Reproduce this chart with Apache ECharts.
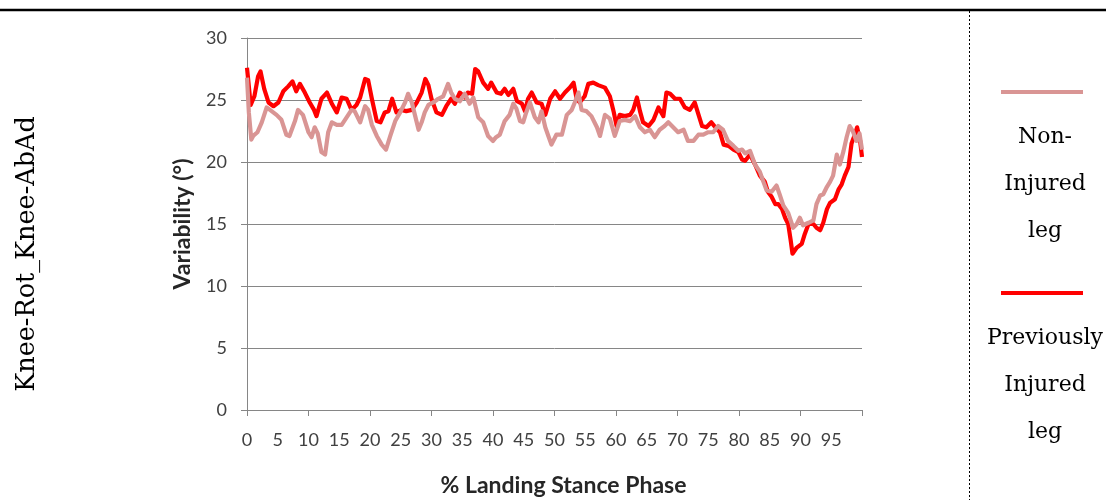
<!DOCTYPE html>
<html>
<head>
<meta charset="utf-8">
<title>Knee-Rot_Knee-AbAd variability</title>
<script src="https://cdn.jsdelivr.net/npm/echarts@6/dist/echarts.min.js"></script>
<style>
  html, body { margin: 0; padding: 0; background: #ffffff; }
  #chart { width: 1106px; height: 500px; }
</style>
</head>
<body>
<div id="chart"></div>
<script>
// Row label and axis titles
const rowLabel = 'Knee-Rot_Knee-AbAd';
const yTitle = 'Variability (°)';
const xTitle = '% Landing Stance Phase';
const seriesNames = ['Non-Injured leg', 'Previously Injured leg'];
const legendLines = [['Non-', 'Injured', 'leg'], ['Previously', 'Injured', 'leg']];

// Y-axis ticks (degrees)
const yTicks = [0, 5, 10, 15, 20, 25, 30];

// Previously injured leg: [% stance, variability °]
const injured = [
  [0,27.6],[0.6,24.6],[1.2,25.3],[1.8,26.9],[2.2,27.3],[2.8,25.9],[3.5,24.8],[4.3,24.5],[5.1,24.8],[5.9,25.7],
  [6.7,26.1],[7.4,26.5],[8.0,25.7],[8.6,26.3],[9.4,25.6],[10.2,24.8],[10.9,24.2],[11.3,23.7],[12.1,25.1],[13.0,25.6],
  [13.8,24.7],[14.6,24.0],[15.4,25.2],[16.2,25.1],[17.0,24.2],[17.8,24.6],[18.4,25.2],[19.2,26.7],[19.7,26.6],[20.3,25.1],
  [21.1,23.3],[21.7,23.2],[22.4,24.0],[23.0,24.1],[23.6,25.1],[24.3,24.0],[25.1,24.2],[25.9,24.1],[26.8,24.2],[27.6,24.8],
  [28.4,25.6],[29.0,26.7],[29.5,26.2],[30.0,25.1],[30.8,24.0],[31.7,23.8],[32.4,24.5],[33.2,25.1],[33.8,24.7],[34.6,25.6],
  [35.4,25.2],[35.9,25.6],[36.6,25.5],[37.1,27.5],[37.6,27.3],[38.4,26.4],[39.2,25.9],[39.7,26.4],[40.6,25.6],[41.3,25.5],
  [41.9,25.9],[42.5,25.4],[43.3,25.9],[43.9,24.9],[44.7,24.7],[45.2,24.1],[45.7,25.1],[46.3,25.6],[47.1,24.8],[47.9,24.7],
  [48.5,23.8],[49.3,25.1],[50.1,25.7],[50.9,25.1],[51.7,25.6],[52.5,26.0],[53.1,26.4],[53.6,25.1],[54.1,24.8],[54.9,25.3],
  [55.5,26.3],[56.3,26.4],[57.1,26.2],[58.2,26.0],[59.0,25.3],[59.6,24.1],[60.1,22.9],[60.6,23.8],[61.4,23.7],[62.3,23.8],
  [62.8,24.2],[63.4,25.2],[63.9,24.1],[64.4,23.2],[65.3,22.9],[66.1,23.4],[66.9,24.4],[67.7,23.7],[68.2,25.6],[68.8,25.5],
  [69.6,25.1],[70.4,25.1],[71.2,24.4],[72.0,24.2],[72.8,24.8],[73.3,24.0],[74.0,22.9],[74.7,22.8],[75.5,23.2],[76.0,22.9],
  [76.9,22.4],[77.5,21.4],[78.3,21.3],[79.1,21.0],[79.9,20.8],[80.5,20.2],[81.0,20.1],[81.8,20.6],[82.6,19.8],[83.4,18.9],
  [84.2,18.4],[84.7,17.6],[85.3,17.2],[85.9,16.6],[86.4,16.6],[87.0,16.2],[87.5,15.5],[88.0,15.0],[88.4,13.7],[88.7,12.6],
  [89.4,13.1],[90.2,13.4],[90.7,14.2],[91.3,15.0],[92.1,15.0],[92.6,14.7],[93.2,14.5],[93.7,15.1],[94.3,16.2],[94.8,16.7],
  [95.6,17.0],[96.2,17.8],[96.7,18.2],[97.2,18.9],[97.8,19.6],[98.3,21.5],[98.9,22.3],[99.2,22.8],[99.7,21.7],[100,20.4]
];

// Non-injured leg: [% stance, variability °]
const nonInjured = [
  [0,26.8],[0.3,24.0],[0.7,21.8],[1.0,22.1],[1.7,22.4],[2.4,23.2],[3.2,24.4],[4.0,24.1],[4.8,23.8],[5.6,23.4],
  [6.4,22.2],[6.9,22.1],[7.8,23.3],[8.3,24.2],[9.1,23.8],[10.0,22.4],[10.5,22.0],[11.0,22.8],[11.5,22.3],[12.1,20.8],
  [12.7,20.6],[13.2,22.4],[13.8,23.2],[14.6,23.0],[15.4,23.0],[16.2,23.6],[17.0,24.2],[17.5,24.1],[18.4,23.2],[19.2,24.5],
  [19.7,24.2],[20.3,23.0],[21.1,22.1],[21.9,21.4],[22.6,21.0],[23.3,22.1],[24.1,23.3],[24.9,24.0],[25.7,24.8],[26.2,25.5],
  [26.8,24.8],[27.3,23.8],[27.9,22.6],[28.4,23.2],[28.9,24.0],[29.5,24.6],[30.3,24.8],[31.1,25.1],[31.9,25.3],[32.7,26.3],
  [33.2,25.6],[33.8,25.1],[34.6,24.9],[35.4,25.5],[36.2,24.7],[36.8,25.2],[37.6,23.6],[38.4,23.2],[39.2,22.1],[40.0,21.7],
  [40.5,22.0],[41.1,22.2],[41.9,23.3],[42.7,23.8],[43.3,24.7],[43.8,24.3],[44.4,23.3],[44.9,23.2],[45.4,24.0],[46.0,24.8],
  [46.8,23.6],[47.4,23.2],[47.9,24.1],[48.5,22.8],[49.0,22.1],[49.5,21.4],[50.3,22.2],[51.2,22.2],[52.0,23.8],[52.8,24.2],
  [53.3,24.8],[53.9,25.6],[54.4,24.2],[55.2,24.1],[56.0,23.7],[56.9,22.8],[57.4,22.1],[58.2,23.8],[59.0,23.5],[59.8,22.1],
  [60.6,23.3],[61.4,23.4],[62.3,23.3],[63.1,23.7],[63.9,22.8],[64.7,22.4],[65.5,22.6],[66.3,22.0],[67.1,22.6],[67.9,22.9],
  [68.5,23.2],[69.3,22.8],[70.1,22.4],[71.0,22.6],[71.7,21.7],[72.6,21.7],[73.4,22.2],[74.2,22.2],[75.0,22.4],[75.8,22.4],
  [76.6,22.9],[77.4,22.6],[78.2,21.7],[79.1,21.3],[79.9,20.9],[80.5,21.0],[81.0,20.7],[81.8,20.9],[82.6,19.8],[83.4,19.2],
  [83.9,18.5],[84.5,17.7],[85.3,17.6],[86.1,18.1],[86.6,17.4],[87.2,16.5],[88.0,15.9],[88.8,14.7],[89.4,15.0],[89.9,15.5],
  [90.4,14.9],[91.3,15.1],[92.1,15.3],[92.6,16.6],[93.2,17.3],[93.7,17.4],[94.3,18.0],[94.8,18.4],[95.3,18.9],[95.9,20.6],
  [96.4,19.8],[97.0,20.9],[97.5,22.0],[98.0,22.9],[98.5,22.5],[99.1,21.7],[99.6,22.3],[100,21.0]
];

const PINK = '#D99594';
const RED = '#FF0000';
const AXIS_GREY = '#868686';
const SERIF = '"DejaVu Serif", "Liberation Serif", serif';
const SANS = 'Lato, "Open Sans", sans-serif';

const chart = echarts.init(document.getElementById('chart'), null, { renderer: 'canvas' });

// Side panel: legend swatches with wrapped captions, row label, frame lines
const graphics = [
  { type: 'line', shape: { x1: 0, y1: 10, x2: 1106, y2: 10 }, style: { stroke: '#000', lineWidth: 2.5 }, silent: true },
  { type: 'line', shape: { x1: 969.5, y1: 11, x2: 969.5, y2: 500 }, style: { stroke: '#000', lineWidth: 1, lineDash: [2, 2] }, silent: true },
  {
    type: 'text', x: 27, y: 254, rotation: Math.PI / 2,
    style: { text: rowLabel, font: '25.5px ' + SERIF, fill: '#000', align: 'center', verticalAlign: 'middle' }, silent: true
  }
];
const swatchY = [92, 293];
const colors = [PINK, RED];
legendLines.forEach((lines, i) => {
  graphics.push({ type: 'line', shape: { x1: 1001, y1: swatchY[i], x2: 1083, y2: swatchY[i] }, style: { stroke: colors[i], lineWidth: 4 }, silent: true });
  lines.forEach((t, j) => {
    graphics.push({
      type: 'text', x: 1045, y: swatchY[i] + 45 + j * 47,
      style: { text: t, font: '22px ' + SERIF, fill: '#000', align: 'center', verticalAlign: 'middle' }, silent: true
    });
  });
});

chart.setOption({
  animation: false,
  backgroundColor: '#ffffff',
  grid: { left: 247, right: 244, top: 38, bottom: 90, containLabel: false, outerBoundsMode: 'none' },
  xAxis: [
    {
      type: 'value', min: 0, max: 100, interval: 5, position: 'bottom',
      name: xTitle, nameLocation: 'middle', nameGap: 64,
      nameTextStyle: { fontFamily: SANS, fontWeight: 'bold', fontSize: 23, color: '#262626', padding: [0, 0, 0, 18] },
      axisLine: { show: false }, axisTick: { show: false }, splitLine: { show: false },
      axisLabel: {
        margin: 21, fontFamily: SANS, fontSize: 18, color: '#404040',
        formatter: v => (v === 100 ? '' : String(v))
      }
    },
    {
      type: 'value', min: 0, max: 100, interval: 10, position: 'bottom',
      axisLine: { show: true, lineStyle: { color: AXIS_GREY, width: 1 } },
      axisTick: { show: true, inside: false, length: 6, lineStyle: { color: AXIS_GREY } },
      axisLabel: { show: false }, splitLine: { show: false }
    }
  ],
  yAxis: {
    type: 'value', min: yTicks[0], max: yTicks[yTicks.length - 1], interval: yTicks[1] - yTicks[0],
    name: yTitle, nameLocation: 'middle', nameGap: 53, nameRotate: 90,
    nameTextStyle: { fontFamily: SANS, fontWeight: 'bold', fontSize: 23, color: '#262626' },
    axisLine: { show: true, lineStyle: { color: AXIS_GREY, width: 1 } },
    axisTick: { show: true, inside: false, length: 6, lineStyle: { color: AXIS_GREY } },
    axisLabel: { margin: 20, fontFamily: SANS, fontSize: 18, color: '#404040' },
    splitLine: { show: true, lineStyle: { color: AXIS_GREY, width: 1 } }
  },
  series: [
    {
      name: seriesNames[1], type: 'line', xAxisIndex: 0, data: injured,
      showSymbol: false, symbol: 'none',
      lineStyle: { color: RED, width: 4.2, join: 'round' }, itemStyle: { color: RED }, z: 2
    },
    {
      name: seriesNames[0], type: 'line', xAxisIndex: 0, data: nonInjured,
      showSymbol: false, symbol: 'none',
      lineStyle: { color: PINK, width: 4.2, join: 'round' }, itemStyle: { color: PINK }, z: 3
    }
  ],
  graphic: graphics
});
</script>
</body>
</html>
